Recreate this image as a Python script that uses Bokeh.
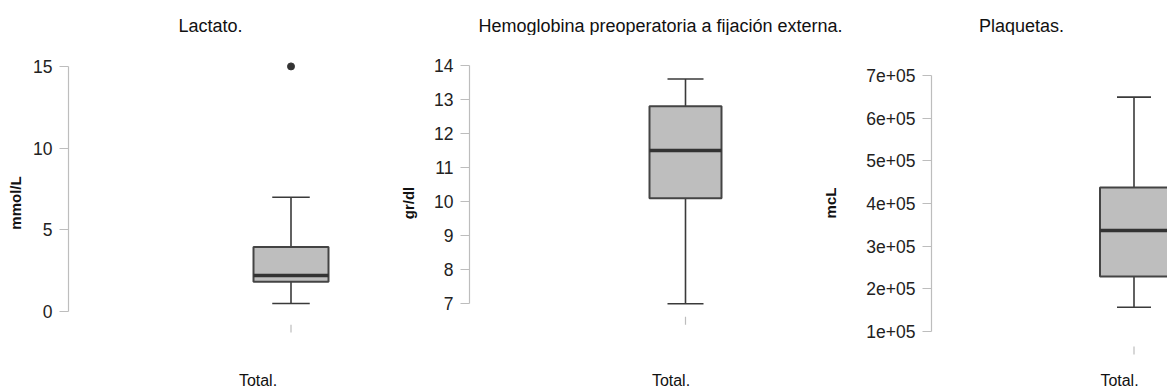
from bokeh.plotting import figure
from bokeh.models import Range1d, FixedTicker, Label, CustomJSTickFormatter
from bokeh.layouts import row, column
from bokeh.embed import file_html
from bokeh.resources import INLINE

# ---- data ----
titles = ["Lactato.", "Hemoglobina preoperatoria a fijación externa.", "Plaquetas."]
units = ["mmol/L", "gr/dl", "mcL"]
group = "Total."
lower = [0.5, 7.0, 157000]
q1 = [1.83, 10.1, 229000]
median = [2.22, 11.5, 336500]
q3 = [3.96, 12.8, 437500]
upper = [7.0, 13.6, 649000]
outliers = [[15.0], [], []]
tick_values = [
    [0, 5, 10, 15],
    [7, 8, 9, 10, 11, 12, 13, 14],
    [100000, 200000, 300000, 400000, 500000, 600000, 700000],
]
tick_labels = [
    ["0", "5", "10", "15"],
    ["7", "8", "9", "10", "11", "12", "13", "14"],
    ["1e+05", "2e+05", "3e+05", "4e+05", "5e+05", "6e+05", "7e+05"],
]

# ---- layout constants (page pixels) ----
FONT = "Liberation Sans"
TITLE_H = 35
ROW_H = 356
BOTTOM = 20
widths = [390, 410, 367]
left_borders = [68, 79, 131]
frame_lr = [(68, 390), (469, 800), (931, 1167)]
box_center_px = [290.5, 685, 1133.5]
box_width_px = [75, 72, 68]
total_px = [257.5, 670.5, 1119]
tick_px = [(66, 312), (65, 304), (75, 332)]      # (top tick, bottom tick)
mark_px = [(325, 333), (317, 325), (347, 355)]  # small x tick mark under each box
label_standoffs = [6, 14, 24]
title_x = [210, 660, 1021]

FRAME_TOP = TITLE_H
FRAME_BOT = TITLE_H + ROW_H - BOTTOM

panels = []
for i in range(3):
    pos = 1.0
    L, R = frame_lr[i]
    ppx = box_width_px[i] / 0.8
    xr = (pos - (box_center_px[i] - L) / ppx, pos + (R - box_center_px[i]) / ppx)
    lo, hi = tick_values[i][0], tick_values[i][-1]
    top_px, bot_px = tick_px[i]
    ppy = (bot_px - top_px) / (hi - lo)
    yr = (lo - (FRAME_BOT - bot_px) / ppy, hi + (top_px - FRAME_TOP) / ppy)

    p = figure(width=widths[i], height=ROW_H, output_backend="svg", toolbar_location=None,
               x_range=Range1d(*xr), y_range=Range1d(*yr),
               min_border_left=left_borders[i], min_border_right=0,
               min_border_top=0, min_border_bottom=BOTTOM)
    p.outline_line_color = None
    p.grid.visible = False
    p.background_fill_color = "white"
    p.border_fill_color = "white"

    # small tick mark under the box
    m0 = lo - (mark_px[i][0] - bot_px) / ppy
    m1 = lo - (mark_px[i][1] - bot_px) / ppy
    p.segment(x0=[pos], y0=[m0], x1=[pos], y1=[m1], line_color="#BDBDBD", line_width=1.2)

    # whiskers
    p.segment(x0=[pos, pos], y0=[q3[i], q1[i]], x1=[pos, pos], y1=[upper[i], lower[i]],
              line_color="#3a3a3a", line_width=1.6)
    p.segment(x0=[pos - 0.2, pos - 0.2], y0=[upper[i], lower[i]],
              x1=[pos + 0.2, pos + 0.2], y1=[upper[i], lower[i]],
              line_color="#3a3a3a", line_width=1.6)
    # box
    p.quad(left=[pos - 0.4], right=[pos + 0.4], bottom=[q1[i]], top=[q3[i]],
           fill_color="#BEBEBE", line_color="#444444", line_width=2)
    # median
    p.segment(x0=[pos - 0.4], y0=[median[i]], x1=[pos + 0.4], y1=[median[i]],
              line_color="#333333", line_width=3.5)
    if outliers[i]:
        p.scatter(x=[pos] * len(outliers[i]), y=outliers[i], size=7,
                  fill_color="#333333", line_color="#333333")

    ya = p.yaxis[0]
    ya.ticker = FixedTicker(ticks=tick_values[i])
    ya.major_label_overrides = {v: s for v, s in zip(tick_values[i], tick_labels[i])}
    ya.bounds = (lo, hi)
    ya.axis_line_color = "#BDBDBD"
    ya.axis_line_width = 1.2
    ya.major_tick_line_color = "#BDBDBD"
    ya.major_tick_line_width = 1.2
    ya.major_tick_out = 9
    ya.major_tick_in = 0
    ya.minor_tick_line_color = None
    ya.major_label_standoff = 7
    ya.major_label_text_font = FONT
    ya.major_label_text_font_size = "17.5px"
    ya.major_label_text_color = "#222222"
    ya.axis_label = units[i]
    ya.axis_label_text_font = FONT
    ya.axis_label_text_font_style = "bold"
    ya.axis_label_text_font_size = "15px"
    ya.axis_label_text_color = "#111111"
    ya.axis_label_standoff = label_standoffs[i]

    xa = p.xaxis[0]
    tx = pos + (total_px[i] - box_center_px[i]) / ppx
    xa.ticker = FixedTicker(ticks=[tx])
    xa.formatter = CustomJSTickFormatter(args=dict(lab=group), code="return lab")
    xa.axis_line_color = None
    xa.major_tick_line_color = None
    xa.minor_tick_line_color = None
    xa.major_tick_out = 0
    xa.major_tick_in = 0
    xa.major_label_standoff = 1
    xa.major_label_text_font = FONT
    xa.major_label_text_font_size = "16px"
    xa.major_label_text_color = "#111111"
    panels.append(p)

tf = figure(width=sum(widths), height=TITLE_H, output_backend="svg", toolbar_location=None,
            x_range=Range1d(0, sum(widths)), y_range=Range1d(TITLE_H, 0),
            x_axis_type=None, y_axis_type=None, min_border=0)
tf.outline_line_color = None
tf.grid.visible = False
for i in range(3):
    tf.add_layout(Label(x=title_x[i], y=25, text=titles[i], text_align="center",
                        text_baseline="alphabetic", text_font=FONT, text_font_size="18px",
                        text_color="#111111"))

layout = column(tf, row(*panels, spacing=0), spacing=0)
open("out.html", "w").write(file_html(layout, INLINE))
